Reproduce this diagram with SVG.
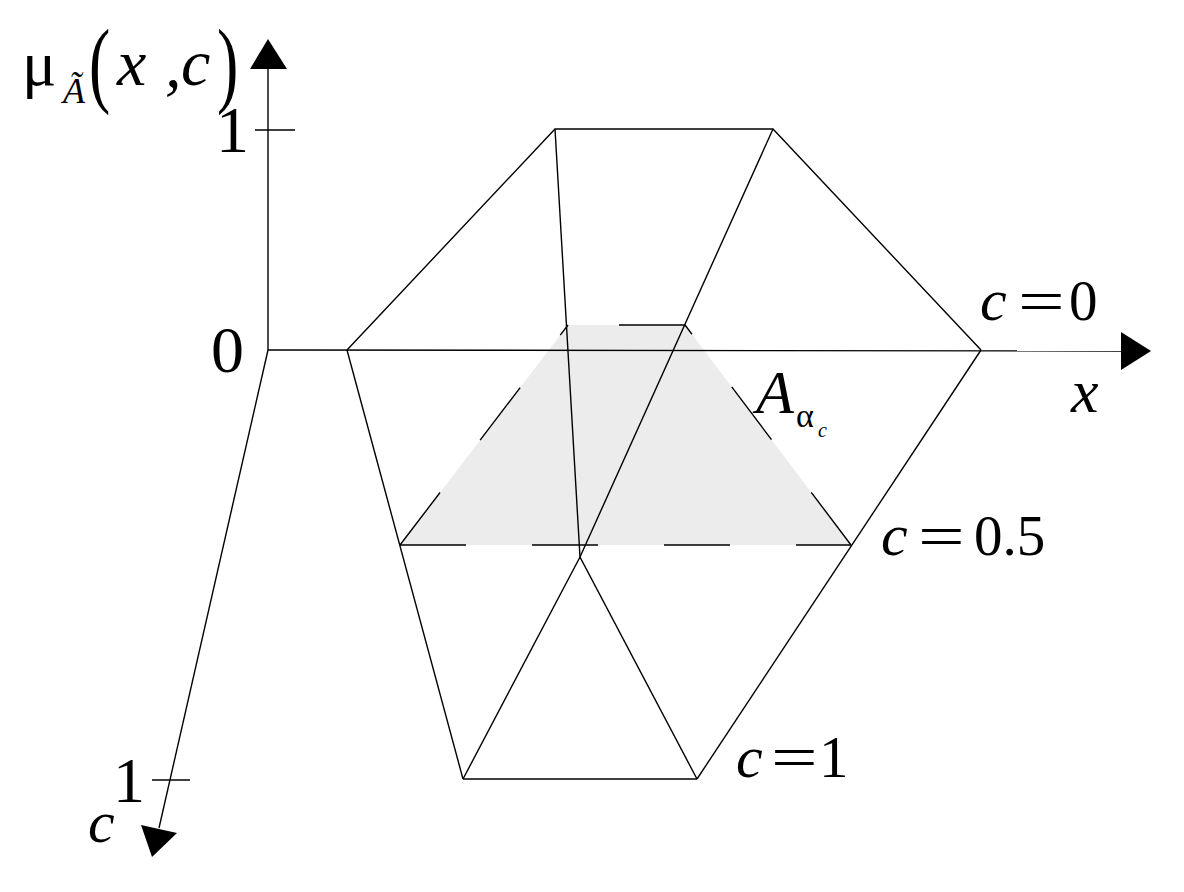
<svg xmlns="http://www.w3.org/2000/svg" width="1184" height="892" viewBox="0 0 1184 892" font-family="'Liberation Serif','Times New Roman',serif">
<style>
.ln{stroke:#000;stroke-width:1.4;fill:none;stroke-linecap:butt}
.ds{stroke:#000;stroke-width:1.4;fill:none;stroke-dasharray:66 66}
.ah{fill:#000;stroke:none}
text{font-family:"Liberation Serif","Times New Roman",serif;fill:#000}
.it{font-style:italic}
</style>
<rect width="1184" height="892" fill="#fff"/>
<g id="slice-fill">
<polygon points="400,545 568,325 685,325 851,545" fill="#ececec"/>
</g>
<g id="connectors">
<g id="axes">
<line class="ln" x1="268" y1="350" x2="268" y2="66"/>
<line class="ln" x1="268" y1="350" x2="1124" y2="351"/>
<line class="ln" x1="268" y1="350" x2="159" y2="828"/>
<line class="ln" x1="255" y1="130" x2="295" y2="130"/>
<line class="ln" x1="152" y1="780" x2="190" y2="780"/>
<polygon class="ah" points="268,39 250,69 287,69"/>
<polygon class="ah" points="1151,351 1121,332 1121,370"/>
<polygon class="ah" points="152,857 141,825 177,833"/>
</g>
<g id="surface">
<polyline class="ln" points="347,350 555,129 773,129 981,350"/>
<line class="ln" x1="347" y1="350" x2="463" y2="779"/>
<line class="ln" x1="981" y1="350" x2="697" y2="779"/>
<line class="ln" x1="463" y1="779" x2="697" y2="779"/>
<polyline class="ln" points="555,129 580,557 697,779"/>
<polyline class="ln" points="773,129 580,557 463,779"/>
</g>
<g id="alpha-cut">
<line class="ds" x1="400" y1="545" x2="568" y2="325"/>
<line class="ds" x1="685" y1="325" x2="568" y2="325"/>
<line class="ds" x1="851" y1="545" x2="685" y2="325"/>
<line class="ds" x1="400" y1="545" x2="851" y2="545"/>
</g>
</g>
<g id="label-mu">
<text x="22" y="85" font-size="64">μ</text>
<text class="it" x="63" y="103" font-size="36">Ã</text>
<text transform="translate(89,95) scale(1,1.5)" font-size="64">(</text>
<text class="it" x="117" y="85" font-size="66">x</text>
<text class="it" x="165" y="87" font-size="66">,</text>
<text class="it" x="181" y="85" font-size="66">c</text>
<text transform="translate(217,95) scale(1,1.5)" font-size="64">)</text>
</g>
<g id="tick-labels">
<text x="216" y="152" font-size="66">1</text>
<text x="211" y="372" font-size="66">0</text>
<text x="113" y="802" font-size="64">1</text>
<text class="it" x="88" y="842" font-size="60">c</text>
<text class="it" x="1071" y="412" font-size="62">x</text>
</g>
<g id="label-c0">
<text class="it" x="980" y="320" font-size="60">c</text>
<text transform="translate(1018,321) scale(1.38,1)" font-size="60">=</text>
<text x="1069" y="320" font-size="57">0</text>
</g>
<g id="label-c05">
<text class="it" x="881" y="555" font-size="60">c</text>
<text transform="translate(918,556) scale(1.38,1)" font-size="60">=</text>
<text x="974" y="555" font-size="57">0.5</text>
</g>
<g id="label-c1">
<text class="it" x="736" y="777" font-size="60">c</text>
<text transform="translate(771,777) scale(1.38,1)" font-size="60">=</text>
<text x="819" y="777" font-size="59">1</text>
</g>
<g id="label-A">
<text class="it" x="756" y="413" font-size="62">A</text>
<text x="796" y="427" font-size="34">α</text>
<text class="it" x="818" y="437" font-size="20">c</text>
</g>
</svg>
